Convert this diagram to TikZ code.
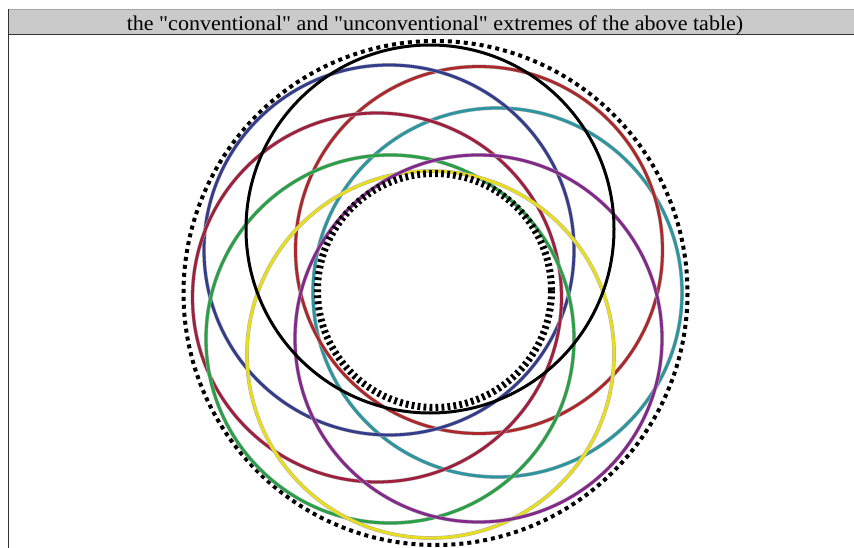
\documentclass[tikz,border=0pt]{standalone}
\usepackage{fontspec}
\setmainfont{Liberation Serif}

\definecolor{ringteal}{RGB}{44,150,160}
\definecolor{ringbrick}{RGB}{172,40,42}
\definecolor{ringblue}{RGB}{52,60,140}
\definecolor{ringcrimson}{RGB}{160,30,62}
\definecolor{ringgreen}{RGB}{40,160,70}
\definecolor{ringyellow}{RGB}{232,222,30}
\definecolor{ringpurple}{RGB}{132,40,140}
\definecolor{barfill}{RGB}{202,202,202}

\begin{document}
\begin{tikzpicture}[x=1pt, y=-1pt,
    ring/.style={draw=gray!60, double=#1, double distance=2.8pt, line width=0.5pt}]
        \useasboundingbox (0,0) rectangle (854,548);

        % Header bar
        \fill[barfill] (9,9) rectangle (854,34);
        \draw[gray!70, line width=0.6pt] (9,9) -- (854,9);
        \draw[black!80, line width=1.5pt] (9,34.5) -- (854,34.5);
        \draw[black!80, line width=1.8pt] (8.5,9) -- (8.5,548);
        \node[anchor=base, inner sep=0pt, font=\fontsize{21}{24}\selectfont] (title) at (435,30.5)
            {\scalebox{1.05}[1]{the \textquotedbl conventional\textquotedbl{} and \textquotedbl unconventional\textquotedbl{} extremes of the above table)}};

        % Outer dotted ring
        \draw[line width=4pt, dash pattern=on 4pt off 4pt] (435.5,293) circle (252);

        % Colored rings
        \draw[ring=ringteal] (497.5,292.5) circle (184.5);
        \draw[ring=ringbrick] (479,250) circle (183.5);
        \draw[ring=ringblue] (389,250) circle (185);
        \draw[ring=ringcrimson] (377,297.5) circle (184.5);
        \draw[ring=ringgreen] (390,339) circle (184);
        \draw[ring=ringyellow] (430.5,354.5) circle (183.5);
        \draw[ring=ringpurple] (478.5,338.5) circle (183.5);

        % Black ring
        \draw[line width=3pt] (430,229) circle (184);

        % Inner dashed ring
        \draw[line width=7pt, dash pattern=on 2.8pt off 3.2pt] (434.5,290.5) circle (117);
    \end{tikzpicture}
\end{document}
